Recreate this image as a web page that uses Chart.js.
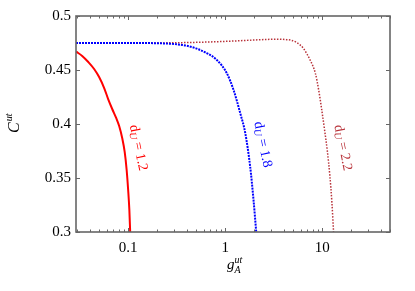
<!DOCTYPE html>
<html>
<head>
<meta charset="utf-8">
<script src="https://cdn.jsdelivr.net/npm/chart.js@4.4.1/dist/chart.umd.min.js"></script>
<style>
  html, body { margin: 0; padding: 0; background: #fff; }
  #wrap { width: 415px; height: 291px; }
</style>
</head>
<body>
<div id="wrap"><canvas id="chart"></canvas></div>
<script>
/* ── Data ───────────────────────────────────────────── */
const X_MIN = 0.029, X_MAX = 50;
const xMajor = [0.1, 1, 10];
const xMinor = [0.03, 0.04, 0.05, 0.06, 0.07, 0.08, 0.09,
                0.2, 0.3, 0.4, 0.5, 0.6, 0.7, 0.8, 0.9,
                2, 3, 4, 5, 6, 7, 8, 9,
                20, 30, 40, 50];
const yTicks = [0.3, 0.35, 0.4, 0.45, 0.5];

// d_U = 1.2 (red, solid)
const gA_12 = [0.0291, 0.0336, 0.0388, 0.0446, 0.0502, 0.0566, 0.0622, 0.0685,
               0.0752, 0.0808, 0.0868, 0.0921, 0.0965, 0.1, 0.1029, 0.1049];
const C_12  = [0.467, 0.463, 0.4574, 0.4509, 0.4435, 0.4333, 0.4231, 0.4139,
               0.4056, 0.3981, 0.387, 0.3741, 0.3574, 0.3389, 0.3204, 0.300];

// d_U = 1.8 (blue, dotted)
const gA_18 = [0.029, 0.05, 0.1, 0.2, 0.3, 0.4, 0.5, 0.65, 0.82, 1.04,
               1.22, 1.43, 1.61, 1.81, 1.96, 2.09];
const C_18  = [0.475, 0.475, 0.475, 0.4748, 0.474, 0.4725, 0.470, 0.4655, 0.4593, 0.447,
               0.4315, 0.410, 0.3917, 0.3605, 0.3296, 0.300];

// d_U = 2.2 (dark red, dotted)
const gA_22 = [0.029, 0.1, 0.3, 0.6, 1.0, 1.5, 2.0, 2.7, 3.5, 4.2,
               4.8, 5.5, 6.4, 7.5, 8.5, 9.2, 9.9, 10.6, 11.3, 12.0, 12.6, 13.1];
const C_22  = [0.475, 0.475, 0.4752, 0.4758, 0.4765, 0.4772, 0.4778, 0.4783, 0.4785, 0.4782,
               0.4775, 0.4753, 0.470, 0.4593, 0.447, 0.4315, 0.413, 0.394, 0.375, 0.352, 0.327, 0.300];

// curve annotations, placed in data coordinates
const curveLabels = [
  { x: 0.127, y: 0.378, val: '1.2', color: '#ff0000' },
  { x: 2.44,  y: 0.381, val: '1.8', color: '#0000ff' },
  { x: 16.3,  y: 0.378, val: '2.2', color: '#b8333a' }
];

/* ── Helpers ────────────────────────────────────────── */
const SERIF = '"Liberation Serif", "DejaVu Serif", serif';
const AXIS_COL = '#666';

function pts(xs, ys) { return xs.map((x, i) => ({ x: x, y: ys[i] })); }

/* ── Frame, inward ticks, titles, labels ────────────── */
const decorPlugin = {
  id: 'decor',
  afterDraw(chart) {
    const { ctx, chartArea: a, scales } = chart;
    const sx = scales.x, sy = scales.y;
    ctx.save();

    // inward ticks on all four sides
    ctx.strokeStyle = AXIS_COL;
    ctx.lineWidth = 1;
    ctx.beginPath();
    xMinor.concat(xMajor).forEach(v => {
      const px = Math.round(sx.getPixelForValue(v)) + 0.5;
      const len = xMajor.includes(v) ? 4 : 2.5;
      ctx.moveTo(px, a.bottom); ctx.lineTo(px, a.bottom - len);
      ctx.moveTo(px, a.top);    ctx.lineTo(px, a.top + len);
    });
    yTicks.forEach(v => {
      const py = Math.round(sy.getPixelForValue(v)) + 0.5;
      ctx.moveTo(a.left, py);  ctx.lineTo(a.left + 4, py);
      ctx.moveTo(a.right, py); ctx.lineTo(a.right - 4, py);
    });
    ctx.stroke();

    // frame
    ctx.lineWidth = 1.6;
    ctx.strokeRect(a.left, a.top, a.right - a.left, a.bottom - a.top);

    // x title: g_A^ut
    ctx.fillStyle = '#000';
    ctx.textAlign = 'left';
    ctx.textBaseline = 'alphabetic';
    ctx.font = 'italic 15px ' + SERIF;
    const gx = 227, gy = 269;
    ctx.fillText('g', gx, gy);
    const gw = ctx.measureText('g').width;
    ctx.font = 'italic 10px ' + SERIF;
    ctx.fillText('ut', gx + gw, gy - 6);
    ctx.fillText('A', gx + gw, gy + 4);

    // y title: C^ut (rotated)
    ctx.save();
    ctx.translate(19, 133);
    ctx.rotate(-Math.PI / 2);
    ctx.font = 'italic 16px ' + SERIF;
    ctx.fillText('C', 0, 0);
    const cw = ctx.measureText('C').width;
    ctx.font = 'italic 10px ' + SERIF;
    ctx.fillText('ut', cw + 1, -7);
    ctx.restore();

    // curve labels d_U = ...
    curveLabels.forEach(l => {
      const px = sx.getPixelForValue(l.x), py = sy.getPixelForValue(l.y);
      ctx.save();
      ctx.translate(px, py);
      ctx.rotate(78 * Math.PI / 180);
      ctx.fillStyle = l.color;
      ctx.textBaseline = 'middle';
      ctx.font = '14px ' + SERIF;
      const dw = ctx.measureText('d').width;
      const rest = ' = ' + l.val;
      const rw = ctx.measureText(rest).width;
      ctx.font = 'italic 10px ' + SERIF;
      const uw = ctx.measureText('U').width;
      const x0 = -(dw + uw + rw) / 2;
      ctx.font = '14px ' + SERIF;
      ctx.fillText('d', x0, 0);
      ctx.font = 'italic 10px ' + SERIF;
      ctx.fillText('U', x0 + dw, 3);
      ctx.font = '14px ' + SERIF;
      ctx.fillText(rest, x0 + dw + uw, 0);
      ctx.restore();
    });

    ctx.restore();
  }
};

/* ── Chart ──────────────────────────────────────────── */
const ctx = document.getElementById('chart').getContext('2d');
new Chart(ctx, {
  type: 'line',
  data: {
    datasets: [
      {
        label: 'dU = 1.8',
        data: pts(gA_18, C_18),
        borderColor: '#0000ff',
        borderWidth: 2,
        borderDash: [2, 1],
        pointRadius: 0,
        cubicInterpolationMode: 'monotone',
        fill: false
      },
      {
        label: 'dU = 2.2',
        data: pts(gA_22, C_22),
        borderColor: '#b8333a',
        borderWidth: 1.5,
        borderDash: [1.5, 1.5],
        pointRadius: 0,
        cubicInterpolationMode: 'monotone',
        fill: false
      },
      {
        label: 'dU = 1.2',
        data: pts(gA_12, C_12),
        borderColor: '#ff0000',
        borderWidth: 2,
        pointRadius: 0,
        cubicInterpolationMode: 'monotone',
        fill: false
      }
    ]
  },
  options: {
    responsive: true,
    maintainAspectRatio: false,
    animation: false,
    layout: { padding: { top: 16, right: 25, left: 0, bottom: 0 } },
    plugins: { legend: { display: false }, tooltip: { enabled: false } },
    scales: {
      x: {
        type: 'logarithmic',
        min: X_MIN, max: X_MAX,
        grid: { display: false, drawTicks: false },
        border: { display: false },
        afterBuildTicks: s => { s.ticks = xMajor.map(v => ({ value: v })); },
        afterFit: s => { s.height = 59; },
        ticks: {
          color: '#000',
          font: { family: SERIF, size: 15 },
          padding: 7,
          maxRotation: 0,
          autoSkip: false,
          callback: v => String(v)
        }
      },
      y: {
        min: 0.3, max: 0.5,
        grid: { display: false, drawTicks: false },
        border: { display: false },
        afterBuildTicks: s => { s.ticks = yTicks.map(v => ({ value: v })); },
        afterFit: s => { s.width = 76; },
        ticks: {
          color: '#000',
          font: { family: SERIF, size: 15 },
          padding: 5,
          callback: v => String(Number(v.toFixed(2)))
        }
      }
    }
  },
  plugins: [decorPlugin]
});
</script>
</body>
</html>
